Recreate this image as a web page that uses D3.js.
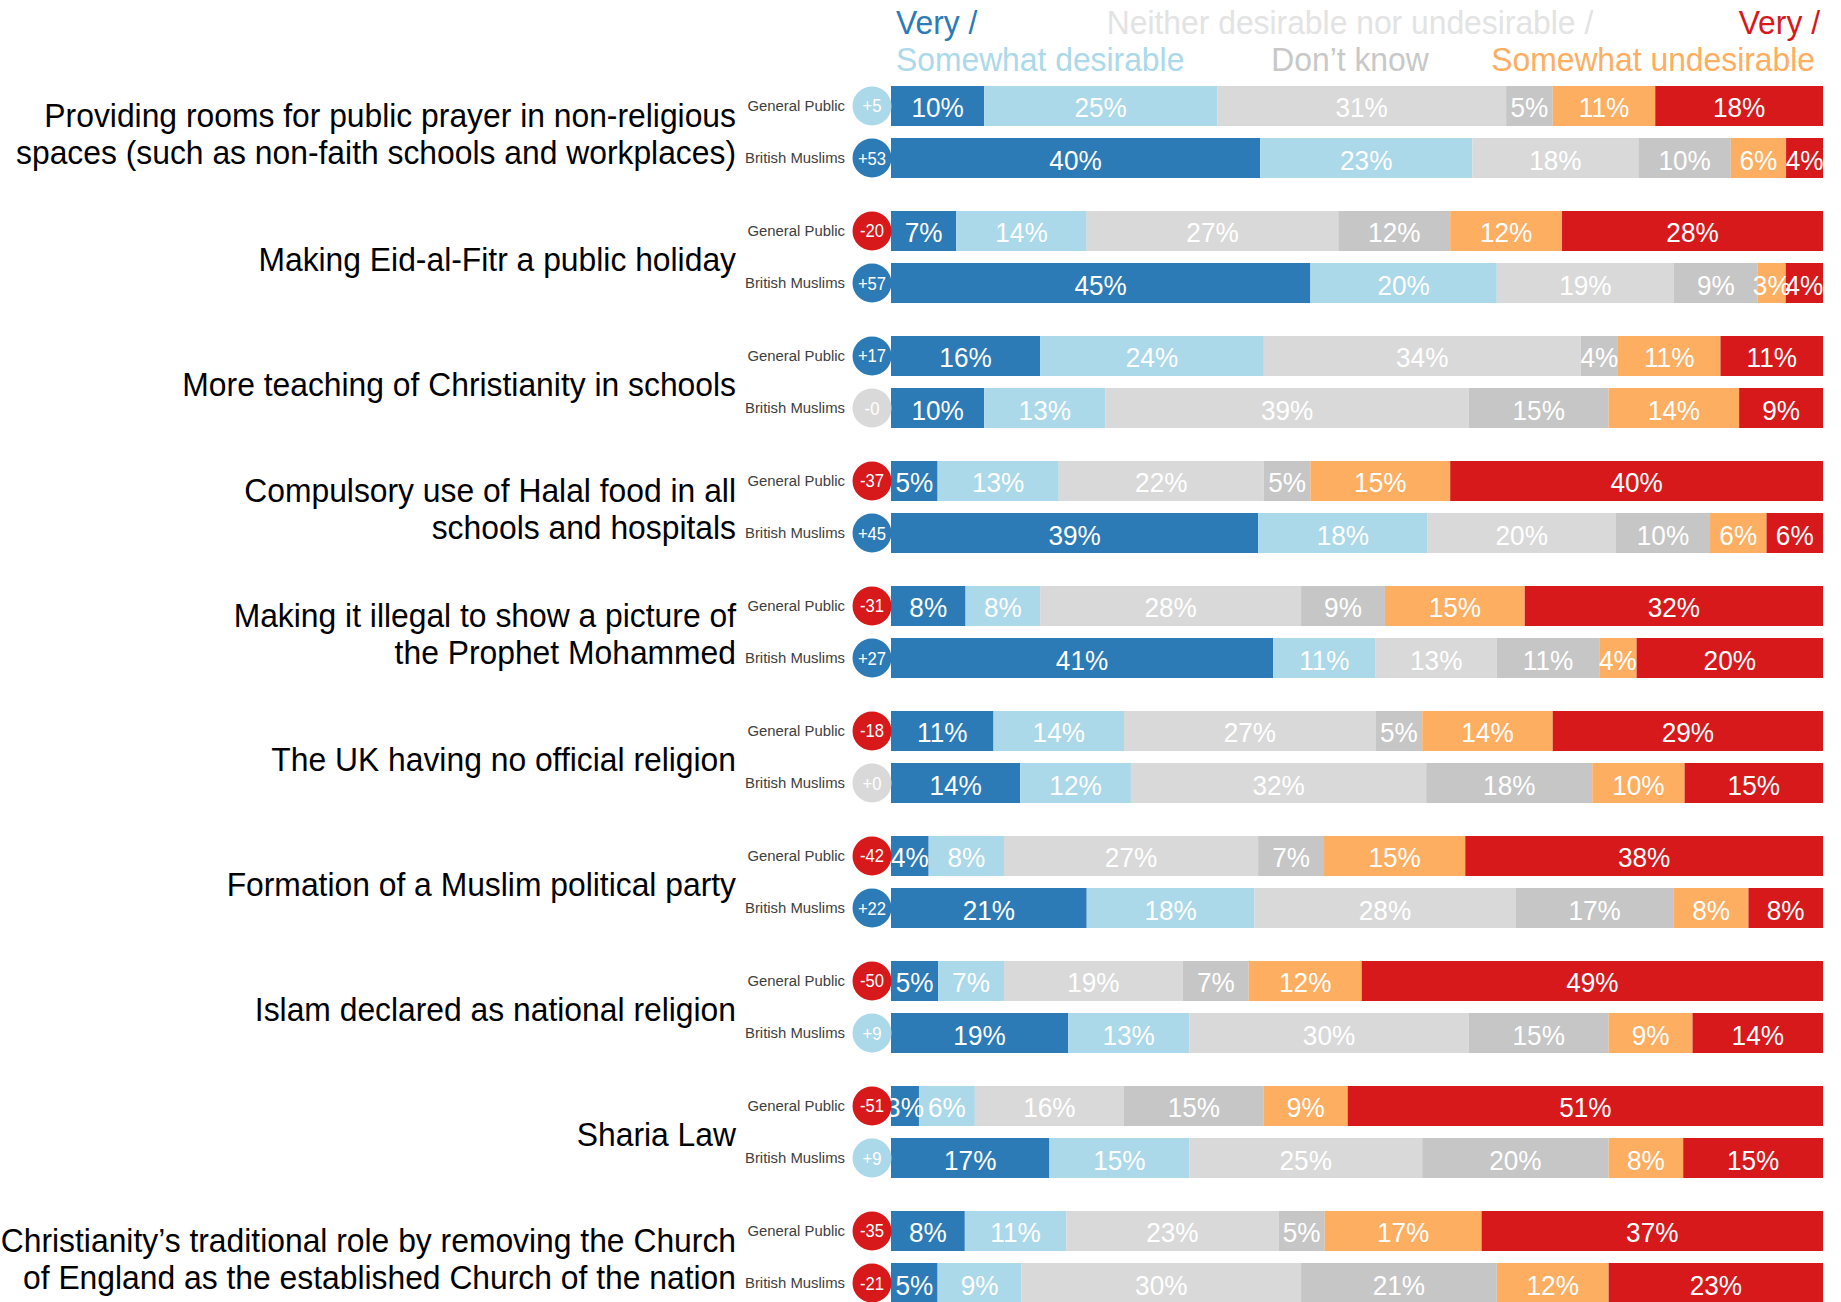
<!DOCTYPE html>
<html><head><meta charset="utf-8">
<script src="https://cdn.jsdelivr.net/npm/d3@7"></script>
<style>body{margin:0;background:#fff}svg{display:block}text{font-family:"Liberation Sans",Arial,sans-serif}</style>
</head><body>
<svg id="c" width="1841" height="1302"></svg>
<script>
const categories = [
  ["Providing rooms for public prayer in non-religious","spaces (such as non-faith schools and workplaces)"],
  ["Making Eid-al-Fitr a public holiday"],
  ["More teaching of Christianity in schools"],
  ["Compulsory use of Halal food in all","schools and hospitals"],
  ["Making it illegal to show a picture of","the Prophet Mohammed"],
  ["The UK having no official religion"],
  ["Formation of a Muslim political party"],
  ["Islam declared as national religion"],
  ["Sharia Law"],
  ["Christianity\u2019s traditional role by removing the Church","of England as the established Church of the nation"]
];
const groups = ["General Public", "British Muslims"];
const seriesNames = ["Very desirable","Somewhat desirable","Neither desirable nor undesirable","Don\u2019t know","Somewhat undesirable","Very undesirable"];
const seriesColors = ["#2c7bb6","#abd9e9","#d9d9d9","#c6c6c6","#fdae61","#d7191c"];
const generalPublic = [
  [10,25,31,5,11,18],
  [7,14,27,12,12,28],
  [16,24,34,4,11,11],
  [5,13,22,5,15,40],
  [8,8,28,9,15,32],
  [11,14,27,5,14,29],
  [4,8,27,7,15,38],
  [5,7,19,7,12,49],
  [3,6,16,15,9,51],
  [8,11,23,5,17,37]
];
const britishMuslims = [
  [40,23,18,10,6,4],
  [45,20,19,9,3,4],
  [10,13,39,15,14,9],
  [39,18,20,10,6,6],
  [41,11,13,11,4,20],
  [14,12,32,18,10,15],
  [21,18,28,17,8,8],
  [19,13,30,15,9,14],
  [17,15,25,20,8,15],
  [5,9,30,21,12,23]
];
const netGeneralPublic = ["+5","-20","+17","-37","-31","-18","-42","-50","-51","-35"];
const netBritishMuslims = ["+53","+57","-0","+45","+27","+0","+22","+9","+9","-21"];
const legendLine1 = [["Very /",0,"start"],["Neither desirable nor undesirable /",2,"middle"],["Very /",5,"end"]];
const legendLine2 = [["Somewhat desirable",1,"start"],["Don\u2019t know",3,"middle"],["Somewhat undesirable",4,"end"]];

const svg = d3.select("#c");
const X0 = 891, X1 = 1823;
const y = d3.scaleBand().domain(d3.range(categories.length)).range([86, 1303]).paddingInner(0.264).paddingOuter(0);
const yIn = d3.scaleBand().domain(groups).range([0, y.bandwidth()]).paddingInner(0.2308).paddingOuter(0);
const color = d3.scaleOrdinal().domain(seriesNames).range(seriesColors);

function ctext(parent, x, yy, str, size, fill, anchor, sx) {
  return parent.append("text")
    .attr("transform", `translate(${x},${yy}) scale(${sx},1)`)
    .attr("text-anchor", anchor || "start")
    .attr("font-size", size)
    .attr("fill", fill)
    .text(str);
}

// legend
const legendX = {start: X0 + 5, middle: 1350, end: X1 - 3};
legendLine1.forEach(([t,si,a]) => {
  const fill = si === 2 ? "#e3e3e3" : seriesColors[si];
  ctext(svg, legendX[a], 34, t, 33, fill, a, 0.965);
});
legendLine2.forEach(([t,si,a]) => {
  const fill = si === 3 ? "#c8c8c8" : seriesColors[si];
  ctext(svg, legendX[a] - (a === "end" ? 5 : 0), 71, t, 33, fill, a, 0.965);
});

function netColor(s) {
  const v = +s;
  if (v === 0) return "#d9d9d9";
  if (v < 0) return "#d7191c";
  return v > 10 ? "#2c7bb6" : "#abd9e9";
}

categories.forEach((lines, i) => {
  const g = svg.append("g").attr("transform", `translate(0,${y(i)})`);
  const cy = y.bandwidth() / 2;
  const lh = 37.5;
  lines.forEach((ln, k) => {
    const yy = cy + (k - (lines.length - 1) / 2) * lh + 13.5;
    ctext(g, 736, yy, ln, 33, "#000", "end", 0.965);
  });
  [generalPublic[i], britishMuslims[i]].forEach((vals, gi) => {
    const gname = groups[gi];
    const ry = yIn(gname);
    const h = yIn.bandwidth();
    const total = d3.sum(vals);
    const x = d3.scaleLinear().domain([0, total]).range([X0, X1]);
    const cum = d3.cumsum(vals);
    const segs = vals.map((v, si) => ({v, si, a: cum[si] - v, b: cum[si]}));
    const row = g.append("g");
    row.selectAll("rect").data(segs).join("rect")
      .attr("x", d => x(d.a)).attr("y", ry)
      .attr("width", d => x(d.b) - x(d.a)).attr("height", h)
      .attr("fill", d => color(seriesNames[d.si]));
    segs.forEach(d => {
      ctext(row, (x(d.a) + x(d.b)) / 2, ry + h / 2 + 11.5, d.v + "%", 27, "#fff", "middle", 0.97);
    });
    ctext(row, 845, ry + h / 2 + 5, gname, 15.5, "#404040", "end", 0.96);
    const net = gi === 0 ? netGeneralPublic[i] : netBritishMuslims[i];
    row.append("circle").attr("cx", 872).attr("cy", ry + h / 2).attr("r", 19.5).attr("fill", netColor(net));
    ctext(row, 872, ry + h / 2 + 6.5, net, 18.5, "#fff", "middle", 0.9);
  });
});
</script>
</body></html>
